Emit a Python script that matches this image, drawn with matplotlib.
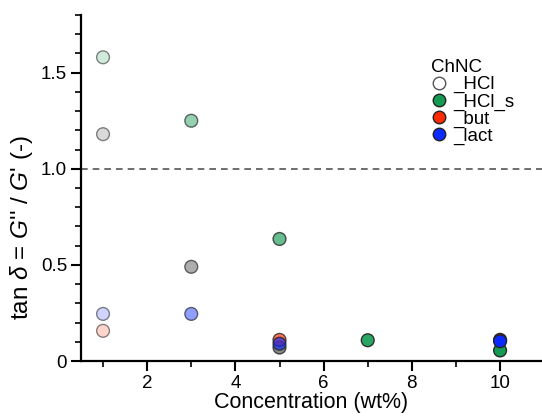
import matplotlib.pyplot as plt
from matplotlib.colors import to_rgba
from matplotlib.lines import Line2D
from matplotlib.ticker import MultipleLocator, FixedLocator

plt.rcParams['font.family'] = ['Liberation Sans', 'DejaVu Sans']
plt.rcParams['mathtext.fontset'] = 'custom'
plt.rcParams['mathtext.it'] = 'Liberation Sans:italic'
plt.rcParams['mathtext.rm'] = 'Liberation Sans'
plt.rcParams['mathtext.sf'] = 'Liberation Sans'

# concentration (wt%) and tan delta for each ChNC type
conc_hcl = [1, 3, 5]
tand_hcl = [1.18, 0.49, 0.07]

conc_hcl_s = [1, 3, 5, 7, 10]
tand_hcl_s = [1.58, 1.25, 0.635, 0.108, 0.055]

conc_but = [1, 5, 10]
tand_but = [0.157, 0.11, 0.11]

conc_lact = [1, 3, 5, 10]
tand_lact = [0.245, 0.245, 0.09, 0.103]

labels = ['_HCl', '_HCl_s', '_but', '_lact']
colors = ['#4a4a4a', '#159a52', '#ff2a00', '#0a2aff']
legend_faces = ['white', '#159a52', '#ff2a00', '#0a2aff']

# lighter markers for lower concentration
conc_alpha = {1: 0.2, 3: 0.45, 5: 0.65, 7: 0.9, 10: 1.0}

fig = plt.figure(figsize=(5.42, 4.16), dpi=100)
ax = fig.add_axes([0.1494, 0.1322, 0.8506, 0.8317])

series = [(conc_hcl, tand_hcl), (conc_hcl_s, tand_hcl_s),
          (conc_but, tand_but), (conc_lact, tand_lact)]
for (xs, ys), c in zip(series, colors):
    faces = [to_rgba(c, conc_alpha[x]) for x in xs]
    edges = [to_rgba('#222222', 0.45 + 0.5 * conc_alpha[x]) for x in xs]
    ax.scatter(xs, ys, s=85, c=faces, edgecolors=edges, linewidths=1.0, zorder=3)

ax.axhline(1.0, color='#555555', linestyle=(0, (4, 3)), linewidth=1.2, zorder=1)

ax.set_xlim(0.5, 10.95)
ax.set_ylim(0, 1.8)
ax.xaxis.set_major_locator(FixedLocator([2, 4, 6, 8, 10]))
ax.xaxis.set_minor_locator(FixedLocator([1, 3, 5, 7, 9, 11]))
ax.yaxis.set_major_locator(FixedLocator([0, 0.5, 1.0, 1.5]))
ax.yaxis.set_minor_locator(MultipleLocator(0.1))
ax.set_yticklabels(['0', '0.5', '1.0', '1.5'])

for side in ['top', 'right']:
    ax.spines[side].set_visible(False)
for side in ['left', 'bottom']:
    ax.spines[side].set_linewidth(1.6)
ax.tick_params(which='major', direction='out', length=7, width=1.5,
               labelsize=13.5, pad=3)
ax.tick_params(which='minor', direction='out', length=4, width=1.2)

ax.set_xlabel('Concentration (wt%)', fontsize=15.5, labelpad=0)
ax.set_ylabel(r"tan $\mathit{\delta}$ = $\mathit{G}$'' / $\mathit{G}$' (-)",
              fontsize=17.5)
ax.yaxis.set_label_coords(-0.1, 0.385)

handles = [Line2D([], [], marker='o', linestyle='none', markersize=9,
                  markerfacecolor=f, markeredgecolor='#555555' if i == 0 else '#222222',
                  markeredgewidth=1.0)
           for i, f in enumerate(legend_faces)]
leg = ax.legend(handles, labels, title='ChNC', loc='upper left',
                bbox_to_anchor=(0.738, 0.9), frameon=False, fontsize=13.5,
                title_fontsize=13.5, handletextpad=0.3, labelspacing=0.0,
                handlelength=0.9, borderpad=0)
leg._legend_box.align = 'left'

fig.savefig('out.png', dpi=100)
